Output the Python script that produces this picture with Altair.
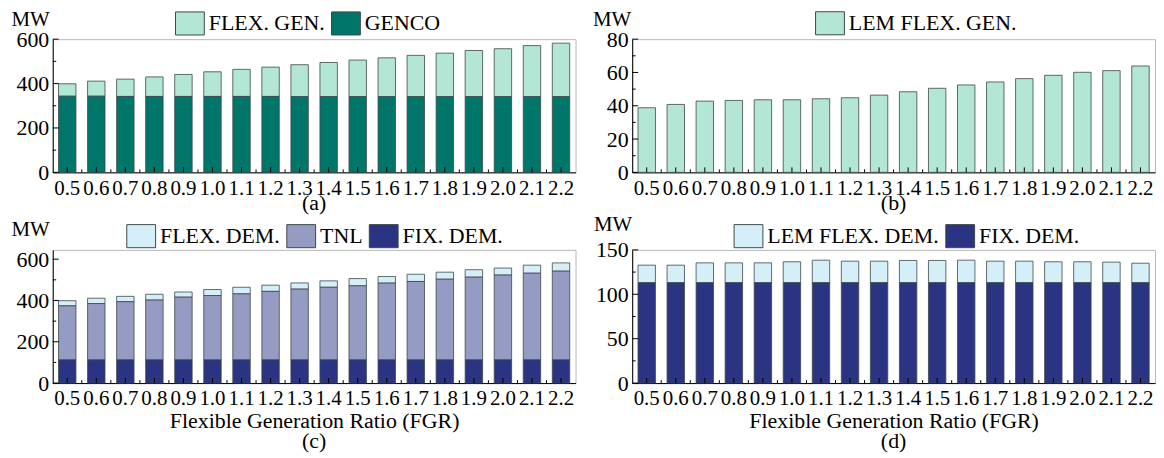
import altair as alt
import pandas as pd

FONT = "Liberation Serif, Times New Roman, serif"

cats = ["0.5", "0.6", "0.7", "0.8", "0.9", "1.0", "1.1", "1.2", "1.3",
        "1.4", "1.5", "1.6", "1.7", "1.8", "1.9", "2.0", "2.1", "2.2"]

# (a)
genco = [343, 343, 342, 342, 342, 342, 342, 342, 341, 341, 341, 341, 341, 341, 341, 341, 341, 341]
flex_gen = [56, 68, 78, 88, 99, 111, 122, 132, 144, 154, 165, 175, 186, 196, 208, 216, 230, 241]
# (b)
lem_flex_gen = [38.8, 40.8, 42.8, 43.2, 43.6, 43.6, 44.2, 44.8, 46.4, 48.4,
                50.5, 52.5, 54.3, 56.3, 58.3, 60.1, 61.1, 63.9]
# (c)
fix_dem_c = [112] * 18
tnl = [262, 273, 282, 290, 304, 312, 320, 332, 343, 352, 359, 372, 380, 391, 401, 411, 420, 430]
flex_dem = [25, 26, 26, 28, 25, 29, 32, 30, 30, 31, 35, 32, 35, 34, 36, 34, 39, 40]
# (d)
fix_dem_d = [113] * 18
lem_flex_dem = [19.8, 19.8, 22.4, 22.4, 22.4, 23.6, 25.4, 24.3, 24.3, 25.1,
                25.1, 25.4, 24.3, 24.3, 23.6, 23.6, 23.2, 22.0]

C_FLEXGEN = "#b3e6d5"
C_GENCO = "#00756a"
C_FLEXDEM = "#d5eff9"
C_TNL = "#969bc3"
C_FIXDEM = "#2b3383"
EDGE = "#3c4848"

W = 526
H = 134
HALF_STEP = W / len(cats) / 2


def long_df(series):
    rows = []
    for name, vals, order in series:
        for c, v in zip(cats, vals):
            rows.append({"cat": c, "series": name, "value": v, "ord": order})
    return pd.DataFrame(rows)


def panel(series, colors, ydomain, yvalues, yminor, lx, ly, mwx, mwy, xtitle, caption, cap_off):
    names = [s[0] for s in series]
    df = long_df(series)
    xscale = alt.Scale(domain=cats, paddingInner=0.4, paddingOuter=0.2)
    yscale = alt.Scale(domain=ydomain, nice=False)
    xaxis_kw = dict(labelAngle=0, labelOverlap=False, labelFlush=False, labelBound=False,
                    ticks=False, labelPadding=5, grid=False, titlePadding=2,
                    labelFont=FONT, labelFontSize=21, titleFont=FONT, titleFontSize=22,
                    titleFontWeight="normal")
    if xtitle:
        xaxis = alt.Axis(title=xtitle, **xaxis_kw)
    else:
        xaxis = alt.Axis(title=None, **xaxis_kw)
    yaxis = alt.Axis(title="MW", values=yvalues, ticks=False, grid=False,
                     labelOverlap=False, labelFlush=False,
                     labelPadding=4, labelFont=FONT, labelFontSize=22,
                     titleFont=FONT, titleFontSize=21, titleFontWeight="normal",
                     titleAngle=0, titleAlign="left", titleBaseline="alphabetic",
                     titleX=mwx, titleY=mwy)
    bars = alt.Chart(df).mark_bar(stroke=EDGE, strokeWidth=0.8).encode(
        x=alt.X("cat:N", scale=xscale, sort=cats, axis=xaxis),
        y=alt.Y("value:Q", stack="zero", scale=yscale, axis=yaxis),
        color=alt.Color("series:N", scale=alt.Scale(domain=names, range=colors),
                        legend=alt.Legend(title=None, orient="none", legendX=lx, legendY=ly,
                                          direction="horizontal",
                                          symbolType="M-1,-0.8H1V0.8H-1Z", symbolSize=841,
                                          symbolStrokeColor=EDGE, symbolStrokeWidth=1,
                                          symbolOpacity=1, labelLimit=400,
                                          labelFont=FONT, labelFontSize=22, labelColor="black",
                                          labelOffset=4, columnPadding=4, padding=0)),
        order=alt.Order("ord:Q"),
    )
    xt_major = alt.Chart(pd.DataFrame({"cat": cats})).mark_rule(color="black", strokeWidth=1).encode(
        x=alt.X("cat:N", scale=xscale, sort=cats, axis=xaxis),
        y=alt.value(H), y2=alt.value(H - 5))
    xt_minor = alt.Chart(pd.DataFrame({"cat": cats[:-1]})).mark_rule(
        color="black", strokeWidth=1, xOffset=HALF_STEP).encode(
        x=alt.X("cat:N", scale=xscale, sort=cats, axis=xaxis),
        y=alt.value(H), y2=alt.value(H - 3))
    yt_major = alt.Chart(pd.DataFrame({"value": yvalues})).mark_rule(color="black", strokeWidth=1).encode(
        y=alt.Y("value:Q", scale=yscale, axis=yaxis), x=alt.value(0), x2=alt.value(6))
    yt_minor = alt.Chart(pd.DataFrame({"value": yminor})).mark_rule(color="black", strokeWidth=1).encode(
        y=alt.Y("value:Q", scale=yscale, axis=yaxis), x=alt.value(0), x2=alt.value(3.5))
    return alt.layer(bars, xt_major, xt_minor, yt_major, yt_minor).properties(
        width=W, height=H,
        title=alt.TitleParams(caption, orient="bottom", font=FONT, fontSize=22,
                              fontWeight="normal", color="black", offset=cap_off))


pa = panel([("FLEX. GEN.", flex_gen, 2), ("GENCO", genco, 1)], [C_FLEXGEN, C_GENCO],
           [0, 600], [0, 200, 400, 600], [100, 300, 500], 123, -31, -42, -14, None, "(a)", -5)
pb = panel([("LEM FLEX. GEN.", lem_flex_gen, 1)], [C_FLEXGEN],
           [0, 80], [0, 20, 40, 60, 80], [10, 30, 50, 70], 184, -31, -40, -14, None, "(b)", -5)
pc = panel([("FLEX. DEM.", flex_dem, 3), ("TNL", tnl, 2), ("FIX. DEM.", fix_dem_c, 1)],
           [C_FLEXDEM, C_TNL, C_FIXDEM],
           [0, 645], [0, 200, 400, 600], [100, 300, 500], 74, -29, -42, -14,
           "Flexible Generation Ratio (FGR)", "(c)", -1)
pd_ = panel([("LEM FLEX. DEM.", lem_flex_dem, 2), ("FIX. DEM.", fix_dem_d, 1)],
            [C_FLEXDEM, C_FIXDEM],
            [0, 150], [0, 50, 100, 150], [25, 75, 125], 102, -29, -39, -19,
            "Flexible Generation Ratio (FGR)", "(d)", -1)

chart = alt.concat(pa, pb, pc, pd_, columns=2, spacing={"row": 78, "column": 57},
                   bounds="flush").resolve_scale(
    color="independent", x="independent", y="independent").resolve_legend(
    color="independent").properties(
    padding={"left": 2, "top": -2, "right": 0, "bottom": 0}, background="white"
).configure_view(stroke="#b8b8b8", strokeWidth=1).configure_axis(
    labelColor="black", titleColor="black", domainColor="black", domainWidth=1,
    labelOverlap=False
)

chart.save("out.html", embed_options={"renderer": "svg", "actions": False})
